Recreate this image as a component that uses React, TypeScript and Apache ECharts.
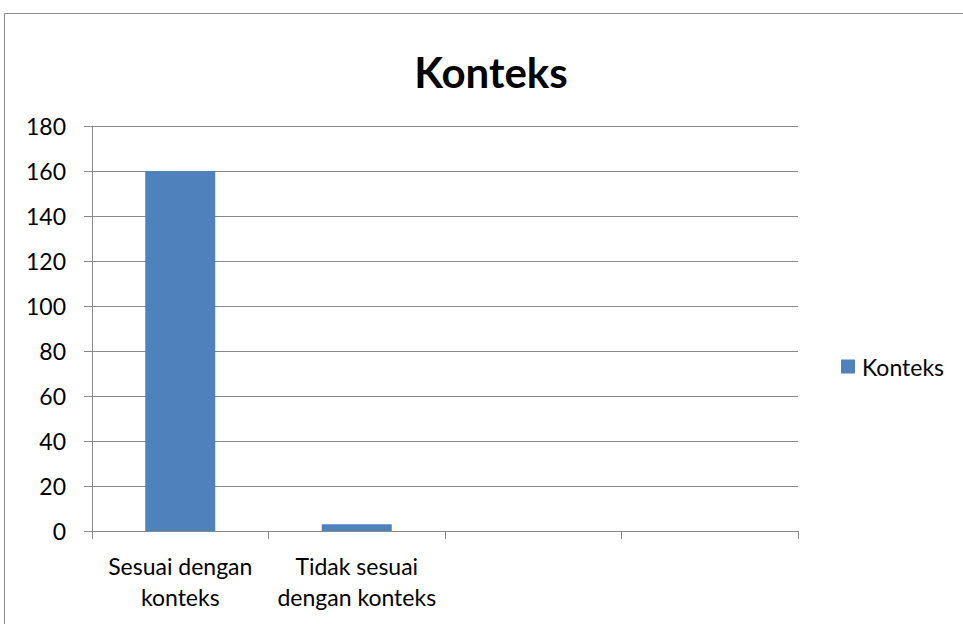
import React, { useEffect, useRef } from "react";
import * as echarts from "echarts";

const categories = ["Sesuai dengan\nkonteks", "Tidak sesuai\ndengan konteks", "", ""];
const values = [160, 3, null, null];
const seriesName = "Konteks";
const titleText = "Konteks";

export default function App() {
  const ref = useRef<HTMLDivElement>(null);
  useEffect(() => {
    const chart = echarts.init(ref.current!, null, { renderer: "svg" });
    const font = "Lato, 'Open Sans', sans-serif";
    chart.setOption({
      animation: false,
      backgroundColor: "#ffffff",
      title: {
        text: titleText,
        left: 486,
        textAlign: "center",
        top: 46,
        textStyle: { fontFamily: font, fontSize: 42, fontWeight: "bold", color: "#000" },
      },
      legend: {
        left: 836,
        top: 350,
        orient: "vertical",
        itemWidth: 14,
        itemHeight: 14,
        icon: "rect",
        itemGap: 6,
        textStyle: { fontFamily: font, fontSize: 23, color: "#000", padding: [0, 0, 0, 2] },
        data: [seriesName],
      },
      grid: { left: 92, right: 165, top: 126, bottom: 93 },
      xAxis: {
        type: "category",
        data: categories,
        boundaryGap: true,
        axisLine: { show: true, lineStyle: { color: "#888", width: 1 } },
        axisTick: { show: true, length: 8, alignWithLabel: false, interval: 0, lineStyle: { color: "#888" } },
        axisLabel: {
          interval: 0,
          margin: 19,
          fontFamily: font,
          fontSize: 23,
          lineHeight: 31,
          color: "#000",
          align: "center",
        },
        splitLine: { show: false },
      },
      yAxis: {
        type: "value",
        min: 0,
        max: 180,
        interval: 20,
        axisLine: { show: true, lineStyle: { color: "#888", width: 1 } },
        axisTick: { show: true, length: 8, inside: false, lineStyle: { color: "#888" } },
        axisLabel: { fontFamily: font, fontSize: 23, color: "#000", margin: 26 },
        splitLine: { show: true, lineStyle: { color: "#888", width: 1 } },
      },
      series: [
        {
          name: seriesName,
          type: "bar",
          data: values,
          barWidth: 70,
          itemStyle: { color: "#4F81BD" },
        },
      ],
      graphic: [
        {
          type: "rect",
          shape: { x: 4.5, y: 13.5, width: 1000, height: 700 },
          style: { fill: "none", stroke: "#888", lineWidth: 1 },
          silent: true,
        },
      ],
    });
    return () => chart.dispose();
  }, []);
  return (
    <div
      ref={ref}
      style={{ position: "absolute", left: 0, top: 0, width: 963, height: 624 }}
    />
  );
}
